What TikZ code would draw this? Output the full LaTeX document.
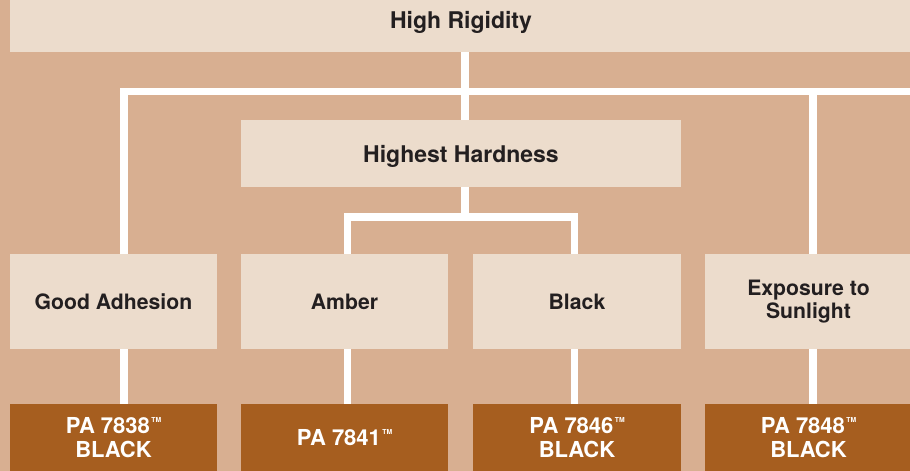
\documentclass[tikz,border=0pt]{standalone}
\usepackage{fontspec}
\setmainfont{TeX Gyre Heros}
\definecolor{bgtan}{HTML}{D8AF91}
\definecolor{lightbox}{HTML}{ECDCCC}
\definecolor{darkbox}{HTML}{A65E1F}
\definecolor{inkdark}{HTML}{231F20}
\pgfdeclarelayer{bglayer}
\pgfdeclarelayer{lineslayer}
\pgfsetlayers{bglayer,lineslayer,main}
\newcommand{\tmark}{\hspace{1.5pt}\raisebox{11.3pt}{\fontsize{6.8}{6.8}\selectfont TM}}
\tikzset{
  lightnode/.style={fill=lightbox, draw=none, inner sep=0pt, text=inkdark, align=center},
  darknode/.style={fill=darkbox, draw=none, inner sep=0pt, text=white, align=center,
    minimum width=207pt, minimum height=67pt, font=\fontsize{22}{24}\selectfont\bfseries},
  rowtwo/.style={lightnode, minimum width=207pt, minimum height=95pt,
    font=\fontsize{21.2}{22.7}\selectfont\bfseries},
  headnode/.style={lightnode, text depth=0pt, font=\fontsize{23}{24}\selectfont\bfseries},
  conn/.style={draw=white, line width=7.5pt, line join=miter}
}
\begin{document}
\begin{tikzpicture}[x=1pt,y=-1pt]
\useasboundingbox (0,0) rectangle (910,471);
\clip (0,0) rectangle (910,471);
\begin{pgfonlayer}{bglayer}
\fill[bgtan] (0,0) rectangle (910,471);
\end{pgfonlayer}

% nodes
\node[headnode, minimum width=902pt, minimum height=64pt] (top) at (461,20) {High Rigidity};
\node[headnode, minimum width=440pt, minimum height=67pt] (hh) at (461,153.5) {Highest Hardness};

\node[rowtwo] (ga) at (113.5,301.5) {Good Adhesion};
\node[rowtwo] (am) at (344.5,301.5) {Amber};
\node[rowtwo, minimum width=208pt] (bl) at (577,301.5) {Black};
\node[rowtwo] (ex) at (808.5,301.5) {Exposure to\\Sunlight};

\node[darknode] (p1) at (113.5,437.5) {PA 7838\tmark\\BLACK};
\node[darknode] (p2) at (344.5,437.5) {PA 7841\tmark};
\node[darknode, minimum width=208pt] (p3) at (577,437.5) {PA 7846\tmark\\BLACK};
\node[darknode] (p4) at (808.5,437.5) {PA 7848\tmark\\BLACK};

% connector coordinates
\coordinate (sx) at (465,0);
\coordinate (lx) at (124,0);
\coordinate (rx) at (813,0);
\coordinate (ax) at (347.5,0);
\coordinate (bx) at (574.5,0);
\coordinate (busend) at (915,91.5);
\coordinate (subjoin) at (465,217);

\begin{pgfonlayer}{lineslayer}
\draw[conn] (top.south -| sx) -- (hh.north -| sx);
\draw[conn] (p1.north -| lx) |- (busend);
\draw[conn] (busend -| rx) -- (p4.north -| rx);
\draw[conn] (hh.south -| sx) -- (subjoin);
\draw[conn] (am.north -| ax) |- (subjoin) -| (bl.north -| bx);
\draw[conn] (am.south -| ax) -- (p2.north -| ax);
\draw[conn] (bl.south -| bx) -- (p3.north -| bx);
\end{pgfonlayer}
\end{tikzpicture}
\end{document}
